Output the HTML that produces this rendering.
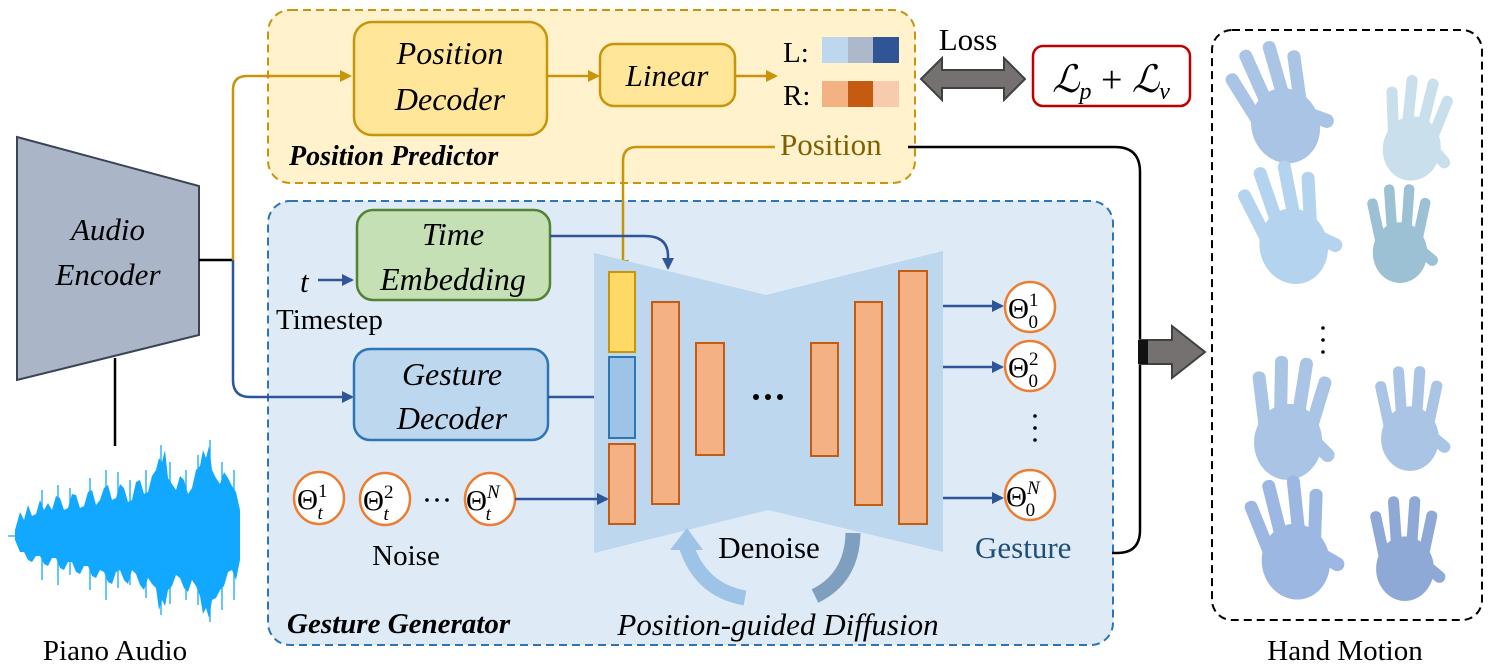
<!DOCTYPE html>
<html><head><meta charset="utf-8"><style>
html,body{margin:0;padding:0;background:#fff;}
svg{display:block;}
text{font-family:"Liberation Serif",serif;}
</style></head><body>
<svg width="1494" height="666" viewBox="0 0 1494 666" xmlns="http://www.w3.org/2000/svg">
<defs>
<marker id="ao" markerWidth="12" markerHeight="12" refX="10" refY="6" orient="auto" markerUnits="userSpaceOnUse"><path d="M0,0 L12,6 L0,12 z" fill="#c8940a"/></marker>
<marker id="ab" markerWidth="12" markerHeight="12" refX="10" refY="6" orient="auto" markerUnits="userSpaceOnUse"><path d="M0,0 L12,6 L0,12 z" fill="#2e5597"/></marker>
<g id="hand">
<ellipse cx="0" cy="22" rx="34" ry="38"/>
<rect x="-32" y="-52" width="13" height="58" rx="6" transform="rotate(-12)"/>
<rect x="-16" y="-64" width="13" height="70" rx="6" transform="rotate(-4)"/>
<rect x="1" y="-64" width="13" height="70" rx="6" transform="rotate(4)"/>
<rect x="16" y="-52" width="13" height="58" rx="6" transform="rotate(12)"/>
<rect x="22" y="0" width="14" height="44" rx="7" transform="rotate(-50 29 22)"/>
</g>
</defs>

<rect x="268" y="10" width="647" height="173" rx="22" fill="#fff2cc" stroke="#c8940a" stroke-width="2" stroke-dasharray="8,5"/>
<rect x="268" y="201" width="845" height="444" rx="22" fill="#deeaf6" stroke="#2e75b6" stroke-width="2" stroke-dasharray="8,5"/>

<polygon points="17,137 199,186 199,335 17,380" fill="#aab5c8" stroke="#3a4456" stroke-width="2"/>
<text x="108" y="240" font-size="31" font-style="italic" text-anchor="middle">Audio</text>
<text x="108" y="285" font-size="31" font-style="italic" text-anchor="middle">Encoder</text>
<line x1="199" y1="260" x2="233" y2="260" stroke="#000" stroke-width="2.5"/>
<line x1="115" y1="358" x2="115" y2="446" stroke="#000" stroke-width="2.5"/>

<!-- waveform -->
<path fill="#12a8ff" d="M15,530 L20,512 L24,520 L28,505 L32,516 L36,514 L40,500 L44,510 L48,503 L52,510 L56,496 L60,498 L64,510 L68,508 L72,494 L76,495 L80,508 L84,506 L88,492 L92,490 L96,505 L100,500 L104,488 L108,485 L112,500 L116,498 L120,484 L124,488 L128,502 L132,500 L136,482 L140,480 L144,494 L148,492 L152,476 L156,470 L159,458 L162,462 L165,450 L168,478 L172,484 L176,490 L180,476 L184,480 L188,494 L192,488 L196,470 L200,466 L203,450 L206,458 L209,446 L212,470 L216,478 L220,484 L224,472 L228,478 L232,486 L236,492 L240,510 L240,560 L236,580 L232,570 L228,572 L224,586 L220,590 L216,598 L212,600 L209,618 L206,608 L203,614 L200,596 L196,586 L192,580 L188,592 L184,588 L180,578 L176,575 L172,586 L168,590 L165,606 L162,600 L159,610 L156,588 L152,584 L148,578 L144,590 L140,585 L136,574 L132,570 L128,584 L124,580 L120,570 L116,572 L112,584 L108,582 L104,572 L100,570 L96,578 L92,576 L88,566 L84,566 L80,574 L76,572 L72,562 L68,562 L64,570 L60,568 L56,558 L52,558 L48,566 L44,564 L40,556 L36,556 L32,562 L28,560 L24,552 L20,552 L15,540 Z"/>
<path stroke="#12a8ff" stroke-width="1.3" d="M8,536H40 M42,490V580 M58,485V585 M70,488V575 M90,478V590 M106,470V600 M118,472V588 M130,480V585 M146,470V598 M161,445V615 M170,462V604 M186,470V600 M198,455V605 M210,440V622 M222,462V610 M234,470V600"/>
<text x="115" y="660" font-size="29" text-anchor="middle">Piano Audio</text>

<path d="M233,260 L233,90 Q233,76 247,76 L350,76" fill="none" stroke="#c8940a" stroke-width="2.5" marker-end="url(#ao)"/>
<path d="M233,260 L233,380 Q233,397 250,397 L352,397" fill="none" stroke="#2e5597" stroke-width="2.5" marker-end="url(#ab)"/>

<rect x="354" y="22" width="193" height="113" rx="18" fill="#ffe699" stroke="#c8940a" stroke-width="2.5"/>
<text x="450" y="64" font-size="32" font-style="italic" text-anchor="middle">Position</text>
<text x="450" y="110" font-size="32" font-style="italic" text-anchor="middle">Decoder</text>
<line x1="547" y1="76" x2="598" y2="76" stroke="#c8940a" stroke-width="2.5" marker-end="url(#ao)"/>
<rect x="600" y="44" width="135" height="62" rx="14" fill="#ffe699" stroke="#c8940a" stroke-width="2.5"/>
<text x="667" y="86" font-size="31" font-style="italic" text-anchor="middle">Linear</text>
<line x1="735" y1="76" x2="776" y2="76" stroke="#c8940a" stroke-width="2.5" marker-end="url(#ao)"/>
<text x="783" y="62" font-size="29">L:</text>
<text x="783" y="105" font-size="29">R:</text>
<rect x="822" y="37" width="26" height="26" fill="#bdd7ee"/><rect x="848" y="37" width="25" height="26" fill="#adb9ca"/><rect x="873" y="37" width="26" height="26" fill="#2f5597"/>
<rect x="822" y="81" width="26" height="26" fill="#f4b183"/><rect x="848" y="81" width="25" height="26" fill="#c55a11"/><rect x="873" y="81" width="26" height="26" fill="#f8cbad"/>
<text x="780" y="155" font-size="31" fill="#7f6000">Position</text>
<text x="289" y="165" font-size="28" font-weight="bold" font-style="italic">Position Predictor</text>

<text x="968" y="50" font-size="31" font-family="Liberation Sans, sans-serif" text-anchor="middle">Loss</text>
<polygon points="921,79 942,58 942,70 1004,70 1004,58 1025,79 1004,100 1004,88 942,88 942,100" fill="#767171" stroke="#404040" stroke-width="2"/>
<rect x="1033" y="46" width="157" height="60" rx="10" fill="#fff" stroke="#c00000" stroke-width="2.5"/>
<text x="1111" y="92" font-size="38" font-style="italic" text-anchor="middle">ℒ<tspan font-size="24" dy="7">p</tspan><tspan dy="-7" font-style="normal"> + </tspan>ℒ<tspan font-size="24" dy="7">v</tspan></text>

<path d="M775,147 L637,147 Q623,147 623,161 L623,270" fill="none" stroke="#c8940a" stroke-width="2.5" marker-end="url(#ao)"/>
<path d="M908,147 L1115,147 Q1140,147 1140,172 L1140,530 Q1140,553 1117,553 L1112,553" fill="none" stroke="#000" stroke-width="2.5"/>
<polygon points="1140,340 1172,340 1172,326 1205,352 1172,378 1172,364 1140,364" fill="#767171" stroke="#404040" stroke-width="2"/>
<rect x="1138" y="340" width="10" height="24" fill="#111"/>

<text x="300" y="292" font-size="31" font-style="italic">t</text>
<line x1="318" y1="280" x2="352" y2="280" stroke="#2e5597" stroke-width="2.5" marker-end="url(#ab)"/>
<rect x="357" y="210" width="193" height="90" rx="16" fill="#c5e0b4" stroke="#548235" stroke-width="2.5"/>
<text x="453" y="245" font-size="32" font-style="italic" text-anchor="middle">Time</text>
<text x="453" y="290" font-size="32" font-style="italic" text-anchor="middle">Embedding</text>
<text x="276" y="329" font-size="29">Timestep</text>

<rect x="354" y="349" width="194" height="91" rx="16" fill="#bdd7ee" stroke="#2e75b6" stroke-width="2.5"/>
<text x="452" y="385" font-size="32" font-style="italic" text-anchor="middle">Gesture</text>
<text x="452" y="429" font-size="32" font-style="italic" text-anchor="middle">Decoder</text>
<line x1="548" y1="397" x2="607" y2="397" stroke="#2e5597" stroke-width="2.5" marker-end="url(#ab)"/>

<polygon points="594,253 766,295 943,251 943,552 768,510 594,553" fill="#bdd7ee"/>
<path d="M550,236 L645,236 Q668,236 668,256 L668,268" fill="none" stroke="#2e5597" stroke-width="2.5" marker-end="url(#ab)"/>
<rect x="609" y="272" width="26" height="80" fill="#ffd966" stroke="#c8940a" stroke-width="2"/>
<rect x="609" y="357" width="26" height="81" fill="#9dc3e6" stroke="#2e75b6" stroke-width="2"/>
<rect x="609" y="444" width="26" height="80" fill="#f4b183" stroke="#c55a11" stroke-width="2"/>
<g fill="#f4b183" stroke="#c55a11" stroke-width="2">
<rect x="652" y="302" width="27" height="202"/>
<rect x="696" y="343" width="28" height="112"/>
<rect x="811" y="343" width="27" height="113"/>
<rect x="855" y="302" width="27" height="203"/>
<rect x="899" y="271" width="28" height="253"/>
</g>
<g fill="#000"><circle cx="756" cy="397" r="3"/><circle cx="768" cy="397" r="3"/><circle cx="780" cy="397" r="3"/></g>

<g fill="#fff" stroke="#ed7d31" stroke-width="2.5">
<ellipse cx="319" cy="498" rx="25" ry="26"/><ellipse cx="385" cy="499" rx="25" ry="26"/><ellipse cx="490" cy="499" rx="25" ry="26"/>
</g>
<g font-size="29">
<text x="297" y="509">Θ<tspan font-size="19" dy="-12">1</tspan><tspan font-size="19" font-style="italic" dx="-10" dy="22">t</tspan></text>
<text x="363" y="510">Θ<tspan font-size="19" dy="-12">2</tspan><tspan font-size="19" font-style="italic" dx="-10" dy="22">t</tspan></text>
<text x="466" y="510">Θ<tspan font-size="19" font-style="italic" dy="-12">N</tspan><tspan font-size="19" font-style="italic" dx="-14" dy="22">t</tspan></text>
</g>
<g fill="#000"><circle cx="427" cy="500" r="1.8"/><circle cx="437" cy="500" r="1.8"/><circle cx="447" cy="500" r="1.8"/></g>
<line x1="515" y1="499" x2="607" y2="499" stroke="#2e5597" stroke-width="2.5" marker-end="url(#ab)"/>
<text x="406" y="565" font-size="29" text-anchor="middle">Noise</text>

<g stroke="#2e5597" stroke-width="2.5">
<line x1="943" y1="306" x2="1002" y2="306" marker-end="url(#ab)"/>
<line x1="943" y1="367" x2="1002" y2="367" marker-end="url(#ab)"/>
<line x1="943" y1="498" x2="1002" y2="498" marker-end="url(#ab)"/>
</g>
<g fill="#fff" stroke="#ed7d31" stroke-width="2.5">
<circle cx="1030" cy="307" r="25"/><circle cx="1030" cy="366" r="25"/><circle cx="1030" cy="495" r="25"/>
</g>
<g font-size="29">
<text x="1008" y="318">Θ<tspan font-size="19" dy="-12">1</tspan><tspan font-size="19" dx="-10" dy="22">0</tspan></text>
<text x="1008" y="377">Θ<tspan font-size="19" dy="-12">2</tspan><tspan font-size="19" dx="-10" dy="22">0</tspan></text>
<text x="1006" y="506">Θ<tspan font-size="19" font-style="italic" dy="-12">N</tspan><tspan font-size="19" dx="-14" dy="22">0</tspan></text>
</g>
<g fill="#000"><circle cx="1035" cy="416" r="1.8"/><circle cx="1035" cy="428" r="1.8"/><circle cx="1035" cy="440" r="1.8"/></g>
<text x="975" y="558" font-size="31" fill="#1f4e79">Gesture</text>

<path d="M745,598 Q700,590 686,545" fill="none" stroke="#9dc3e6" stroke-width="15"/>
<polygon points="670,550 687,528 703,550" fill="#9dc3e6"/>
<path d="M815,596 Q852,578 853,533" fill="none" stroke="#7f9fbf" stroke-width="15"/>
<text x="769" y="558" font-size="31" text-anchor="middle">Denoise</text>
<text x="287" y="633" font-size="29" font-weight="bold" font-style="italic">Gesture Generator</text>
<text x="778" y="635" font-size="31" font-style="italic" text-anchor="middle">Position-guided Diffusion</text>

<rect x="1212" y="30" width="270" height="590" rx="20" fill="#fff" stroke="#000" stroke-width="2" stroke-dasharray="8,5"/>
<g fill="#a9c4e4">
<use href="#hand" transform="translate(1278,105) rotate(-20)"/>
<use href="#hand" transform="translate(1415,130) scale(0.85) rotate(10)" fill="#c9dfeb"/>
<use href="#hand" transform="translate(1288,225) rotate(-15)" fill="#b3d3ee"/>
<use href="#hand" transform="translate(1400,235) scale(0.8)" fill="#9cc0d4"/>
<use href="#hand" transform="translate(1290,420) rotate(5)"/>
<use href="#hand" transform="translate(1410,420) scale(0.85)"/>
<use href="#hand" transform="translate(1292,540) rotate(-10)" fill="#9db7e3"/>
<use href="#hand" transform="translate(1405,550) scale(0.85)" fill="#8fa9d6"/>
</g>
<g fill="#000"><circle cx="1323" cy="328" r="1.8"/><circle cx="1323" cy="340" r="1.8"/><circle cx="1323" cy="352" r="1.8"/></g>
<text x="1345" y="660" font-size="29" text-anchor="middle">Hand Motion</text>
</svg>
</body></html>
